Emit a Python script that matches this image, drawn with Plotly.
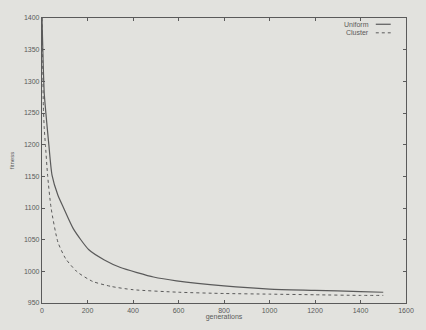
import plotly.graph_objects as go

# generations and values
gen_uniform = [0, 5, 10, 17, 30, 44, 70, 95, 138, 206, 274, 345, 418, 490, 591, 800, 1000, 1200, 1400, 1500]
uniform = [1400, 1330, 1280, 1250, 1200, 1152, 1120, 1100, 1067, 1034, 1018, 1006, 998, 991, 985, 977, 972, 970, 968, 967]

gen_cluster = [0, 3, 6, 10, 15, 25, 40, 70, 104, 155, 223, 306, 400, 600, 800, 1000, 1200, 1400, 1500]
cluster = [1400, 1330, 1260, 1225, 1200, 1150, 1100, 1046, 1020, 999, 984, 976, 971, 967, 965, 964, 963, 962, 962]

x_ticks = [0, 200, 400, 600, 800, 1000, 1200, 1400, 1600]
y_ticks = [950, 1000, 1050, 1100, 1150, 1200, 1250, 1300, 1350, 1400]

series_names = ["Uniform", "Cluster"]

ink = "#5a5a5a"
bg = "#e2e2de"
font_family = "Liberation Sans"

fig = go.Figure()
fig.add_trace(go.Scatter(x=gen_uniform, y=uniform, mode="lines", name=series_names[0],
                         showlegend=False,
                         line=dict(color=ink, width=1.2, shape="spline", smoothing=0.6)))
fig.add_trace(go.Scatter(x=gen_cluster, y=cluster, mode="lines", name=series_names[1],
                         showlegend=False,
                         line=dict(color=ink, width=1.0, dash="dot", shape="spline", smoothing=0.6)))

axis_common = dict(showgrid=False, zeroline=False, showline=True, linecolor=ink, linewidth=1.2,
                   mirror="ticks", ticks="inside", ticklen=3, tickcolor=ink,
                   tickfont=dict(family=font_family, size=7, color=ink))

fig.update_xaxes(range=[0, 1600], tickvals=x_ticks, ticktext=[str(v) for v in x_ticks],
                 title=dict(text="generations", font=dict(family=font_family, size=7, color=ink), standoff=0),
                 **axis_common)
fig.update_yaxes(range=[950, 1400], tickvals=y_ticks, ticktext=[str(v) for v in y_ticks],
                 title=dict(text="fitness", font=dict(family=font_family, size=6, color=ink), standoff=8),
                 **axis_common)

# gnuplot-style key: label right-aligned, line sample to its right
key_rows = [(0.978, "solid", 1.2), (0.948, "dot", 1.0)]
for name, (yk, dash, w) in zip(series_names, key_rows):
    fig.add_annotation(x=0.905, y=yk, xref="paper", yref="paper", text=name, showarrow=False,
                       xanchor="right", yanchor="middle",
                       font=dict(family=font_family, size=7, color=ink))
    fig.add_shape(type="line", xref="paper", yref="paper", x0=0.917, x1=0.958, y0=yk, y1=yk,
                  line=dict(color=ink, width=w, dash=dash))

fig.update_layout(
    width=426, height=330,
    margin=dict(l=36, r=14, t=18, b=22),
    paper_bgcolor=bg, plot_bgcolor=bg,
    showlegend=False,
)

fig.write_html("out.html")
